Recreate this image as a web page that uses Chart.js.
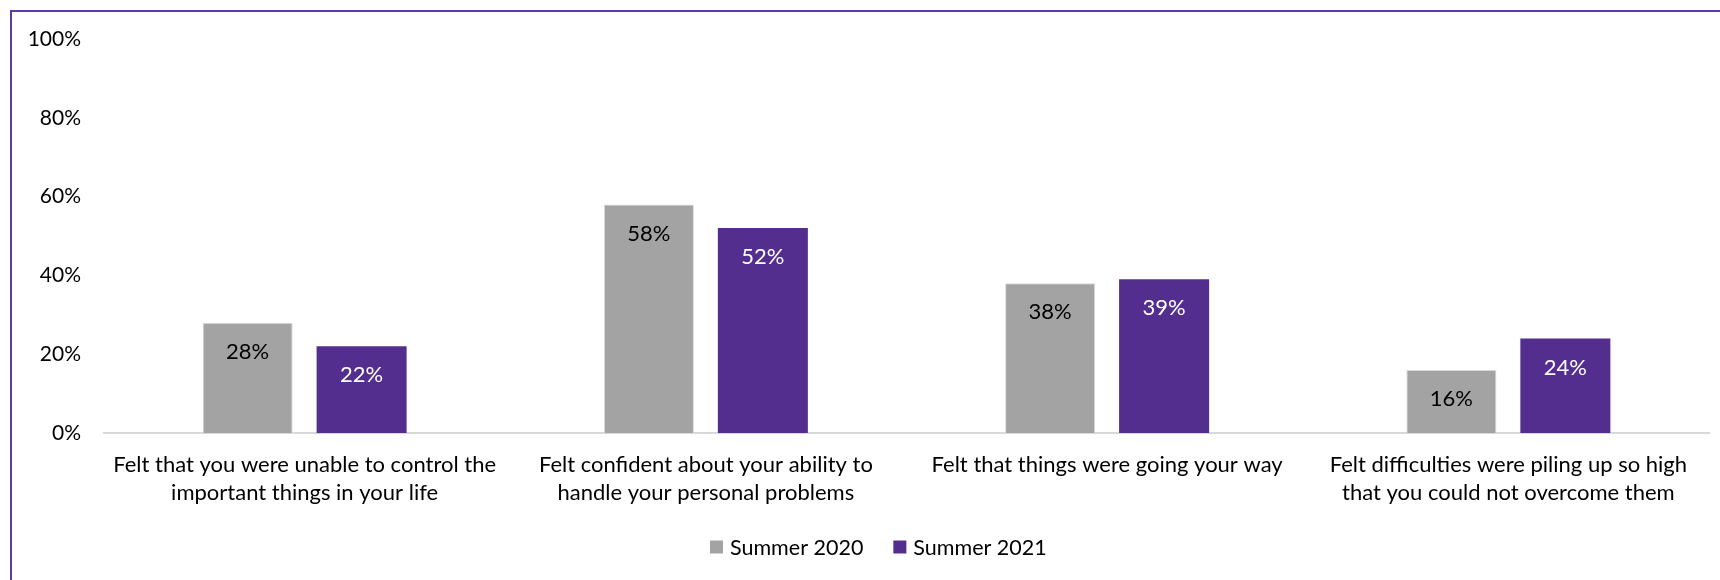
<!DOCTYPE html>
<html lang="en">

<head>
    <meta charset="UTF-8">
    <meta name="viewport" content="width=device-width, initial-scale=1.0">
    <title>Perceived stress items, Summer 2020 vs Summer 2021</title>
    <script src="https://cdn.jsdelivr.net/npm/chart.js"></script>
    <style>
        body {
            margin: 0;
            background: #ffffff;
        }

        #wrap {
            position: relative;
            width: 1720px;
            height: 580px;
        }

        /* purple frame on the top and left edges */
        #frame {
            position: absolute;
            left: 10px;
            top: 10px;
            right: 0;
            bottom: 0;
            border-top: 2px solid #5a3aa6;
            border-left: 2px solid #5a3aa6;
            pointer-events: none;
        }

        canvas {
            position: absolute;
            left: 0;
            top: 0;
        }
    </style>
</head>

<body>

    <div id="wrap">
        <canvas id="stressChart" width="1720" height="580"></canvas>
        <div id="frame"></div>
    </div>

    <script type='text/javascript'>
        // Question wording, one entry per group (split into two lines)
        var categories = [
            ["Felt that you were unable to control the", "important things in your life"],
            ["Felt confident about your ability to", "handle your personal problems"],
            ["Felt that things were going your way"],
            ["Felt difficulties were piling up so high", "that you could not overcome them"]
        ];

        // Percent of respondents, per survey wave
        var summer2020 = [28, 58, 38, 16];
        var summer2021 = [22, 52, 39, 24];

        var yTicks = [0, 20, 40, 60, 80, 100];

        var fontFamily = "Lato, 'Open Sans', sans-serif";

        // Writes the value inside each bar, near its top
        var valueLabels = {
            id: 'valueLabels',
            afterDatasetsDraw: function (chart) {
                var ctx = chart.ctx;
                ctx.save();
                ctx.font = "22px " + fontFamily;
                ctx.textAlign = 'center';
                ctx.textBaseline = 'middle';
                chart.data.datasets.forEach(function (ds, i) {
                    var meta = chart.getDatasetMeta(i);
                    ctx.fillStyle = ds.labelColor;
                    meta.data.forEach(function (bar, j) {
                        ctx.fillText(ds.data[j] + '%', bar.x, bar.y + 29);
                    });
                });
                ctx.restore();
            }
        };

        // Compact legend under the chart: square swatch + series name
        var bottomLegend = {
            id: 'bottomLegend',
            afterDraw: function (chart) {
                var ctx = chart.ctx;
                var box = 13, gap = 7, spacing = 30, y = 547;
                var x = 710;
                ctx.save();
                ctx.font = "21.5px " + fontFamily;
                ctx.textBaseline = 'middle';
                chart.data.datasets.forEach(function (ds) {
                    var w = ctx.measureText(ds.label).width;
                    ctx.fillStyle = ds.backgroundColor;
                    ctx.fillRect(x, y - box / 2, box, box);
                    ctx.fillStyle = '#000000';
                    ctx.fillText(ds.label, x + box + gap, y + 1);
                    x += box + gap + w + spacing;
                });
                ctx.restore();
            }
        };

        var ctx = document.getElementById('stressChart').getContext('2d');

        new Chart(ctx, {
            type: 'bar',
            data: {
                labels: categories,
                datasets: [{
                    label: "Summer 2020",
                    data: summer2020,
                    backgroundColor: "#a3a3a3",
                    borderColor: "#d9d9d9",
                    borderWidth: 1,
                    labelColor: "#000000"
                }, {
                    label: "Summer 2021",
                    data: summer2021,
                    backgroundColor: "#532e8e",
                    borderWidth: 0,
                    labelColor: "#ffffff"
                }]
            },
            options: {
                responsive: false,
                animation: false,
                categoryPercentage: 0.568,
                barPercentage: 0.79,
                layout: {
                    padding: { top: 39, right: 11, left: 0, bottom: 64 }
                },
                plugins: {
                    tooltip: { enabled: false },
                    legend: { display: false }
                },
                scales: {
                    x: {
                        grid: { display: false, drawTicks: false },
                        border: { display: true, color: '#d9d9d9', width: 2 },
                        ticks: {
                            color: '#000000',
                            padding: 18,
                            maxRotation: 0,
                            autoSkip: false,
                            font: { family: fontFamily, size: 22, lineHeight: 1.27 }
                        },
                        afterFit: function (scale) { scale.height = 83; }
                    },
                    y: {
                        min: 0,
                        max: 100,
                        grid: { display: false, drawTicks: false },
                        border: { display: false },
                        afterBuildTicks: function (scale) {
                            scale.ticks = yTicks.map(function (v) { return { value: v }; });
                        },
                        ticks: {
                            color: '#000000',
                            padding: 23,
                            font: { family: fontFamily, size: 21 },
                            callback: function (v) { return v + '%'; }
                        },
                        afterFit: function (scale) { scale.width = 104; }
                    }
                }
            },
            plugins: [valueLabels, bottomLegend]
        });
    </script>

</body>

</html>
